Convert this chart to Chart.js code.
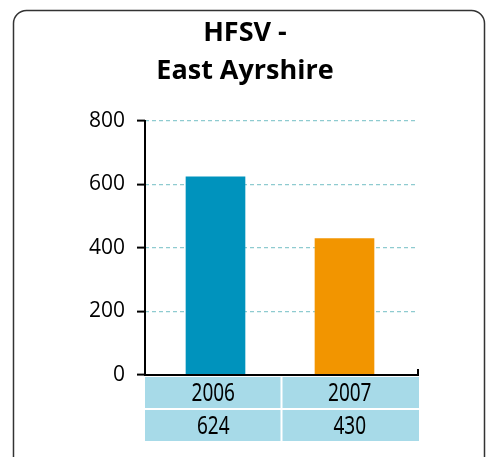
<!DOCTYPE html>
<html><head><meta charset="utf-8">
<script src="https://cdn.jsdelivr.net/npm/chart.js@4/dist/chart.umd.min.js"></script>
<style>html,body{margin:0;padding:0;background:#fff;}#wrap{width:491px;height:457px;position:relative;}</style>
</head><body><div id="wrap"><canvas id="c" width="491" height="457"></canvas></div>
<script>
const titleLines = ['HFSV -', 'East Ayrshire'];
const categories = ['2006', '2007'];
const values = [624, 430];
const tableValues = ['624', '430'];
const barColors = ['#0093bd', '#f29500'];
const yTicks = [0, 200, 400, 600, 800];

const decor = {
  id: 'decor',
  beforeDraw(chart) {
    const ctx = chart.ctx;
    ctx.save();
    ctx.fillStyle = '#fff';
    ctx.fillRect(0, 0, chart.width, chart.height);
    ctx.strokeStyle = '#333';
    ctx.lineWidth = 1.5;
    ctx.beginPath();
    ctx.roundRect(13.5, 10.5, 471, 470, 13);
    ctx.stroke();
    ctx.fillStyle = '#000';
    ctx.font = 'bold 27px "Open Sans", sans-serif';
    ctx.textAlign = 'center';
    ctx.textBaseline = 'alphabetic';
    ctx.fillText(titleLines[0], 245, 41);
    ctx.fillText(titleLines[1], 245, 79);
    ctx.restore();
  },
  afterDraw(chart) {
    const ctx = chart.ctx;
    const a = chart.chartArea;
    ctx.save();
    ctx.strokeStyle = '#000';
    ctx.lineWidth = 2;
    ctx.setLineDash([]);
    ctx.beginPath();
    ctx.moveTo(a.left, a.top - 1);
    ctx.lineTo(a.left, a.bottom);
    ctx.lineTo(a.right, a.bottom);
    ctx.lineTo(a.right, a.bottom - 6);
    ctx.stroke();
    const top = a.bottom + 2, rowH = 31, gap = 2;
    ctx.fillStyle = '#a7dae8';
    ctx.fillRect(a.left, top, a.right - a.left + 1, rowH * 2 + gap);
    ctx.strokeStyle = '#fff';
    ctx.lineWidth = 2;
    ctx.beginPath();
    ctx.moveTo(a.left, top + rowH + 1); ctx.lineTo(a.right + 1, top + rowH + 1);
    const mid = (a.left + a.right) / 2;
    ctx.moveTo(mid, top); ctx.lineTo(mid, top + rowH * 2 + gap);
    ctx.stroke();
    ctx.fillStyle = '#000';
    ctx.font = '26px "Noto Sans", sans-serif';
    ctx.textAlign = 'center';
    ctx.textBaseline = 'middle';
    const colW = (a.right - a.left) / categories.length;
    categories.forEach((c, i) => {
      const cx = a.left + colW * (i + 0.5);
      [[c, top + rowH / 2 + 1], [tableValues[i], top + rowH + gap + rowH / 2 + 1]].forEach(([t, y]) => {
        ctx.save();
        ctx.translate(cx, y);
        ctx.scale(0.73, 1);
        ctx.fillText(t, 0, 0);
        ctx.restore();
      });
    });
    ctx.restore();
  }
};

new Chart(document.getElementById('c'), {
  type: 'bar',
  data: {
    datasets: [{ data: values.map((v, i) => ({ x: i, y: v })), backgroundColor: barColors, borderWidth: 0,
      barThickness: 59 }]
  },
  options: {
    responsive: false,
    animation: false,
    devicePixelRatio: 1,
    layout: { padding: { left: 0, right: 73, top: 121, bottom: 82 } },
    plugins: { legend: { display: false }, title: { display: false }, tooltip: { enabled: false } },
    scales: {
      x: {
        type: 'linear', min: -0.5465, max: 1.5698, offset: false,
        ticks: { display: false },
        grid: { display: false },
        border: { display: false },
        afterFit(s) { s.height = 0; }
      },
      y: {
        min: 0, max: 800,
        afterBuildTicks(s) { s.ticks = yTicks.map(v => ({ value: v })); },
        ticks: { color: '#000', font: { family: '"Open Sans", sans-serif', size: 21 }, padding: 12 },
        grid: {
          color: (c) => c.tick && c.tick.value === 0 ? 'rgba(0,0,0,0)' : '#8ecbd0',
          lineWidth: 1.2,
          tickColor: '#000', tickLength: 8, tickBorderDash: [], tickWidth: 2
        },
        border: { display: false, dash: [4, 3] },
        afterFit(s) { s.width = 145; }
      }
    }
  },
  plugins: [decor]
});
</script></body></html>
